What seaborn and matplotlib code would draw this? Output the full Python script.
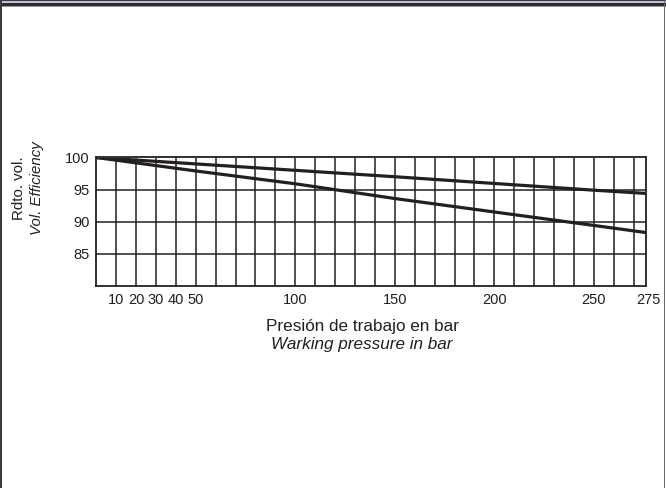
import matplotlib
matplotlib.use("Agg")
import matplotlib.pyplot as plt
from matplotlib.patches import Rectangle
from matplotlib.transforms import ScaledTranslation
import seaborn as sns
import pandas as pd

pressure = [0, 50, 100, 150, 200, 250, 276]
eff_upper = [100, 99.0, 98.0, 97.0, 95.95, 94.9, 94.4]
eff_lower = [100, 97.9, 95.9, 93.6, 91.5, 89.4, 88.3]
xtick_vals = [10, 20, 30, 40, 50, 100, 150, 200, 250, 275]
ytick_vals = [85, 90, 95, 100]

df = pd.DataFrame({
    "p": pressure * 2,
    "eff": eff_upper + eff_lower,
    "curve": ["upper"] * len(pressure) + ["lower"] * len(pressure),
})

sns.set_theme(style="white")
plt.rcParams["font.family"] = ["Liberation Sans", "DejaVu Sans"]

W, H = 666, 488
fig = plt.figure(figsize=(W / 100, H / 100), dpi=100)
ax = fig.add_axes([96.2 / W, 1 - 285.7 / H, (645.6 - 96.2) / W, (285.7 - 157.5) / H])

ink = "#231f20"
# grid
for xv in range(10, 271, 10):
    ax.axvline(xv, color=ink, lw=1.1, zorder=1)
for yv in [85, 90, 95]:
    ax.axhline(yv, color=ink, lw=1.1, zorder=1)

sns.lineplot(data=df, x="p", y="eff", hue="curve", palette={"upper": ink, "lower": ink},
             lw=2.3, legend=False, ax=ax, zorder=3)

ax.set_xlim(0, 276)
ax.set_ylim(80, 100)
ax.set_xticks(xtick_vals)
ax.set_xticklabels([str(v) for v in xtick_vals], fontsize=10.5, color="#231f20")
ax.set_yticks(ytick_vals)
ax.set_yticklabels([str(v) for v in ytick_vals], fontsize=10.5, color="#231f20")
ax.tick_params(axis="both", length=0, pad=5)
ax.set_xlabel("")
ax.set_ylabel("")
for s in ax.spines.values():
    s.set_color(ink)
    s.set_linewidth(1.3)
    s.set_visible(True)

# the last tick label sits slightly right of its gridline in the reference
lab = ax.get_xticklabels()[-1]
lab.set_transform(lab.get_transform() + ScaledTranslation(5 / 100, 0, fig.dpi_scale_trans))

# axis titles
fig.text(362 / W, 1 - 327 / H, "Presión de trabajo en bar", ha="center", va="center",
         fontsize=12.3, color="#231f20")
fig.text(362 / W, 1 - 344 / H, "Warking pressure in bar", ha="center", va="center",
         fontsize=12.3, style="italic", color="#231f20")
fig.text(19 / W, 1 - 188 / H, "Rdto. vol.", ha="center", va="center", rotation=90,
         fontsize=10.8, color="#231f20")
fig.text(37 / W, 1 - 188 / H, "Vol. Efficiency", ha="center", va="center", rotation=90,
         fontsize=10.8, style="italic", color="#231f20")

# frame
def prect(x, y, w, h, c):
    fig.add_artist(Rectangle((x / W, 1 - (y + h) / H), w / W, h / H, transform=fig.transFigure,
                             facecolor=c, edgecolor="none", zorder=10))

prect(0, 0, W, 1, "#3a3a3a")
prect(0, 1, W, 2, "#c4bfdc")
prect(0, 3, W, 3, "#2e2e2e")
prect(0, 6, W, 1, "#9a9a9a")
prect(0, 0, 2, H, "#3a3a3a")
prect(W - 2, 0, 1, H, "#6a6a6a")

fig.savefig("out.png", dpi=100)
